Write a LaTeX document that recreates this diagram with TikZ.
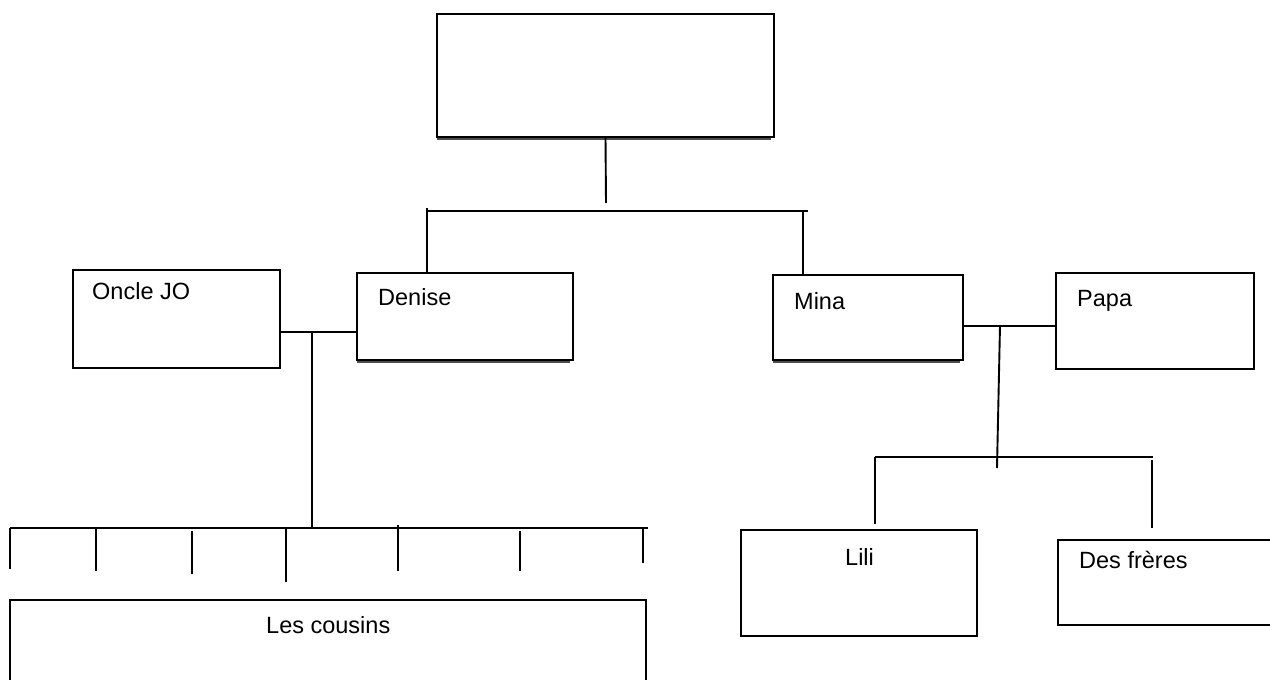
\documentclass[tikz,border=0pt]{standalone}
\usepackage{fontspec}
\setmainfont{Liberation Sans}
\tikzset{
  x=1pt, y=1pt,
  box/.style={draw, line width=1.9pt, inner sep=0pt, outer sep=0pt, anchor=north west},
  conn/.style={line width=1.9pt},
  shadowline/.style={line width=1.6pt, black!70},
  lbl/.style={anchor=base west, inner sep=0pt, font=\fontsize{23.5}{27}\selectfont}
}
\begin{document}
\begin{tikzpicture}
\useasboundingbox (0,0) rectangle (1270,-680);
% boxes
\node[box, minimum width=337pt, minimum height=123pt] (top) at (437,-14) {};
\node[box, minimum width=207pt, minimum height=98pt] (oncle) at (73,-270) {};
\node[box, minimum width=216pt, minimum height=87pt] (denise) at (357,-273) {};
\node[box, minimum width=190pt, minimum height=85pt] (mina) at (773,-275) {};
\node[box, minimum width=198pt, minimum height=96pt] (papa) at (1056,-273) {};
\node[box, minimum width=636pt, minimum height=95pt] (cousins) at (10,-600) {};
\node[box, minimum width=236pt, minimum height=106pt] (lili) at (741,-530) {};
\node[box, minimum width=230pt, minimum height=85pt] (freres) at (1058,-540) {};
% shadows
\foreach \b in {top,denise,mina}{
  \draw[shadowline] ([yshift=-2.2pt]\b.south west) -- ([xshift=-3pt,yshift=-2.2pt]\b.south east);
}
% labels
\node[lbl] (toncle) at (92,-299) {Oncle JO};
\node[lbl] (tdenise) at (378,-305) {Denise};
\node[lbl] (tmina) at (794,-309) {Mina};
\node[lbl] (tpapa) at (1077,-306) {Papa};
\node[lbl] (tlili) at (845,-565) {Lili};
\node[lbl] (tfreres) at (1079,-568) {Des frères};
\node[lbl] (tcousins) at (266,-633) {Les cousins};
% connector coordinates
\coordinate (t1) at (606,-203);
\coordinate (h1l) at (427,-211);
\coordinate (h1r) at (808,-211);
\coordinate (v1l) at (427,-208);
\coordinate (v1r) at (803,-211);
\coordinate (j1) at (312,-332);
\coordinate (j1b) at (312,-528);
\coordinate (h2l) at (10,-528);
\coordinate (h2r) at (648,-528);
\coordinate (j2) at (1000,-326);
\coordinate (j2b) at (997,-468);
\coordinate (h3l) at (875,-457);
\coordinate (h3r) at (1153,-457);
% connectors
\draw[conn] (top.south) -- (t1);
\draw[conn] (h1l) -- (h1r);
\draw[conn] (v1l) -- (v1l |- denise.north);
\draw[conn] (v1r) -- (v1r |- mina.north);
\draw[conn] (j1 -| oncle.east) -- (j1 -| denise.west);
\draw[conn] (j1) -- (j1b);
\draw[conn] (h2l) -- (h2r);
\foreach \x/\a/\b in {10/528/569, 96/528/571, 192/531/574, 286/528/582, 398/525/571, 520/531/571, 643/528/563}{
  \draw[conn] (\x,-\a) -- (\x,-\b);
}
\draw[conn] (j2 -| mina.east) -- (j2 -| papa.west);
\draw[conn] (j2) -- (j2b);
\draw[conn] (h3l) -- (h3r);
\draw[conn] (h3l) -- (875,-524);
\draw[conn] (1152,-460) -- (1152,-528);
\end{tikzpicture}
\end{document}
